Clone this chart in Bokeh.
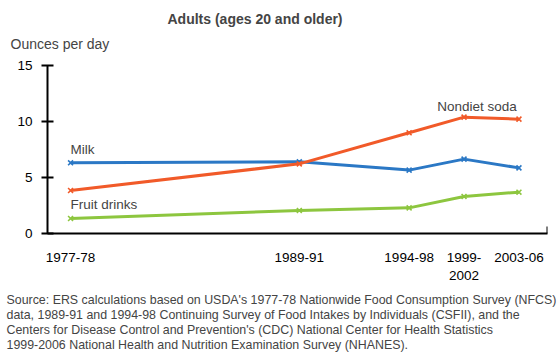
from bokeh.plotting import figure
from bokeh.models import Range1d, FixedTicker, Label, Title
from bokeh.embed import file_html
from bokeh.resources import INLINE

# Data
periods = ["1977-78", "1989-91", "1994-98", "1999-\n2002", "2003-06"]
period_year = [1977.5, 1990, 1996, 1999, 2002]
milk = [6.31, 6.40, 5.66, 6.64, 5.86]
soda = [3.84, 6.22, 8.99, 10.39, 10.21]
fruit = [1.34, 2.06, 2.29, 3.31, 3.69]
y_ticks = [0, 5, 10, 15]
title_text = "Adults (ages 20 and older)"
y_label_text = "Ounces per day"
source_lines = [
    "Source: ERS calculations based on USDA's 1977-78 Nationwide Food Consumption Survey (NFCS)",
    "data, 1989-91 and 1994-98 Continuing Survey of Food Intakes by Individuals (CSFII), and the",
    "Centers for Disease Control and Prevention's (CDC) National Center for Health Statistics",
    "1999-2006 National Health and Nutrition Examination Survey (NHANES).",
]

FONT = "Liberation Sans"
C_MILK = "#2b78c5"
C_SODA = "#f15a29"
C_FRUIT = "#8dc63f"

x_range = Range1d(1976.24, 2003.56)
p = figure(width=558, height=354, output_backend="svg", toolbar_location=None,
           x_range=x_range, y_range=Range1d(0, 15),
           min_border_left=47, min_border_right=11, min_border_top=65, min_border_bottom=121)
p.title = None
p.outline_line_color = None
p.grid.visible = False

# Titles above (first added sits next to the frame)
p.add_layout(Title(text=y_label_text, align="left", offset=-37, standoff=23, vertical_align="top",
                   text_font=FONT, text_font_size="14px", text_font_style="normal"), "above")
p.add_layout(Title(text=title_text, align="left", offset=120, standoff=-5, vertical_align="bottom",
                   text_font=FONT, text_font_size="14px", text_font_style="bold"), "above")

# Axes
ya = p.yaxis[0]
ya.ticker = FixedTicker(ticks=y_ticks)
ya.minor_tick_line_color = None
ya.major_tick_in = 6
ya.major_tick_out = 6
ya.axis_line_width = 2
ya.major_tick_line_width = 2
ya.major_label_standoff = 9
ya.major_label_text_font = FONT
ya.major_label_text_font_size = "13.5px"
ya.major_label_text_color = "black"

xa = p.xaxis[0]
xa.ticker = FixedTicker(ticks=period_year)
xa.major_label_overrides = {y: lab for y, lab in zip(period_year, periods)}
xa.minor_tick_line_color = None
xa.major_tick_in = 0
xa.major_tick_out = 0
xa.axis_line_width = 2
xa.major_label_standoff = 16
xa.major_label_text_font = FONT
xa.major_label_text_font_size = "13.5px"
xa.major_label_text_color = "black"

# small spacer, then the source note below the axis
p.add_layout(Title(text=" ", standoff=3, text_font_size="1px"), "below")
for line in source_lines:
    p.add_layout(Title(text=line, align="left", offset=-41, standoff=-1, vertical_align="bottom",
                       text_font=FONT, text_font_size="12.4px", text_font_style="normal"), "below")

# end tick of x axis
p.segment(x0=[x_range.end], x1=[x_range.end], y0=[-0.62], y1=[0.62],
          line_color="black", line_width=2)

for vals, col in [(milk, C_MILK), (fruit, C_FRUIT), (soda, C_SODA)]:
    p.line(period_year, vals, line_color=col, line_width=3)
    p.scatter(period_year, vals, marker="x", size=7, line_color=col, line_width=1.6)

lab_kw = dict(text_font=FONT, text_font_size="13.5px", text_baseline="alphabetic")
p.add_layout(Label(x=period_year[0], y=milk[0], text="Milk", y_offset=13, **lab_kw))
p.add_layout(Label(x=period_year[0], y=fruit[0], text="Fruit drinks", y_offset=14, **lab_kw))
p.add_layout(Label(x=period_year[3], y=soda[3], text="Nondiet soda", x_offset=13, y_offset=11,
                   text_align="center", **lab_kw))

open("out.html", "w").write(file_html(p, INLINE))
